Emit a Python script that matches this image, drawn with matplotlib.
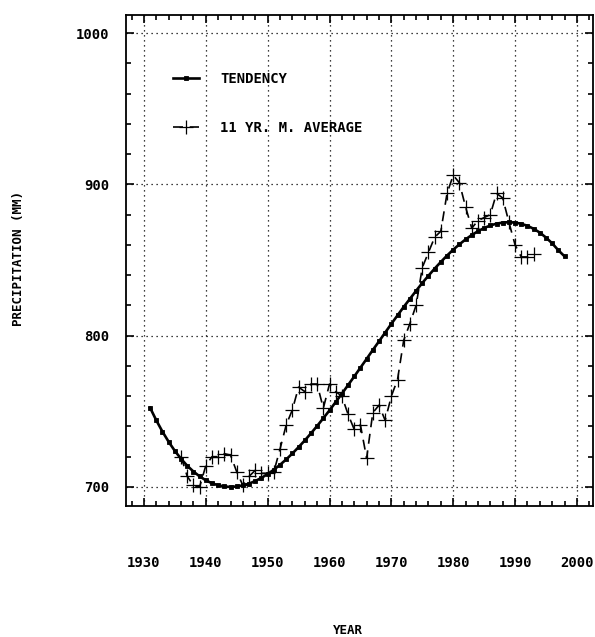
import numpy as np
import matplotlib
matplotlib.use("Agg")
import matplotlib.pyplot as plt
from matplotlib.ticker import MultipleLocator

# tendency curve, one value per year
tend_years = list(range(1931, 1999))
tend_vals = [752.3, 744.0, 736.5, 729.8, 723.8, 718.6, 714.0, 710.2, 707.0, 704.4,
             702.4, 701.1, 700.3, 700.0, 700.3, 701.0, 702.2, 703.9, 706.0, 708.5,
             711.4, 714.6, 718.2, 722.1, 726.3, 730.7, 735.4, 740.3, 745.4, 750.6,
             756.1, 761.6, 767.3, 773.0, 778.8, 784.6, 790.5, 796.2, 802.0, 807.8,
             813.4, 819.0, 824.3, 829.6, 834.8, 839.6, 844.3, 848.7, 852.9, 856.8,
             860.3, 863.6, 866.5, 869.0, 871.1, 872.8, 874.0, 874.7, 875.0, 874.7,
             873.9, 872.6, 870.6, 868.1, 864.8, 861.0, 856.4, 852.4]

# 11 year moving average
ma_years = list(range(1936, 1994))
ma_vals = [720, 707, 701, 700, 714, 720, 720, 722, 721, 710,
           701, 707, 711, 709, 709, 710, 725, 741, 751, 766,
           763, 768, 768, 752, 768, 763, 760, 748, 738, 741,
           719, 749, 754, 744, 760, 771, 797, 808, 820, 845,
           855, 865, 869, 894, 906, 901, 885, 871, 876, 878,
           880, 894, 891, 875, 860, 852, 852, 854]

font = {"family": "DejaVu Sans Mono", "weight": "bold", "size": 10}

fig = plt.figure(figsize=(5.95, 6.37), dpi=100)
ax = fig.add_axes([126/595, 131/637, 467/595, 491/637])

ax.plot(tend_years, tend_vals, color="black", lw=1.9, marker="s", ms=2.2,
        markerfacecolor="black", markeredgewidth=0.6, label="TENDENCY")
ax.plot(ma_years, ma_vals, color="black", lw=1.2, ls=(0, (6, 4)), marker="+",
        ms=10, markeredgewidth=0.9, label="11 YR. M. AVERAGE")

ax.set_xlim(1927.1, 2002.6)
ax.set_ylim(687.4, 1011.9)
ax.xaxis.set_major_locator(MultipleLocator(10))
ax.xaxis.set_minor_locator(MultipleLocator(2))
ax.yaxis.set_major_locator(MultipleLocator(100))
ax.yaxis.set_minor_locator(MultipleLocator(20))
ax.tick_params(which="both", direction="in", top=True, right=True, width=1.2)
ax.tick_params(which="major", length=6)
ax.tick_params(which="minor", length=3.5)
ax.tick_params(axis="x", which="major", pad=36)
ax.tick_params(axis="y", which="major", pad=12)
for lab in ax.get_xticklabels() + ax.get_yticklabels():
    lab.set_fontproperties(matplotlib.font_manager.FontProperties(**font))
for sp in ax.spines.values():
    sp.set_linewidth(1.3)

ax.grid(True, which="major", color="black", ls=(0, (1, 3)), lw=0.9)

leg = ax.legend(loc="upper left", bbox_to_anchor=(0.1, 0.884), frameon=False,
                borderaxespad=0, borderpad=0, handlelength=1.9, handletextpad=1.5,
                labelspacing=2.5, numpoints=1, prop=font)

fig.text(19/595, 1 - 258/637, "PRECIPITATION (MM)", rotation=90, ha="center",
         va="center", family="DejaVu Sans Mono", weight="bold", size=9)
fig.text(348/595, 1 - 631/637, "YEAR", ha="center", va="center",
         family="DejaVu Sans Mono", weight="bold", size=9)

fig.savefig("out.png", dpi=100)
